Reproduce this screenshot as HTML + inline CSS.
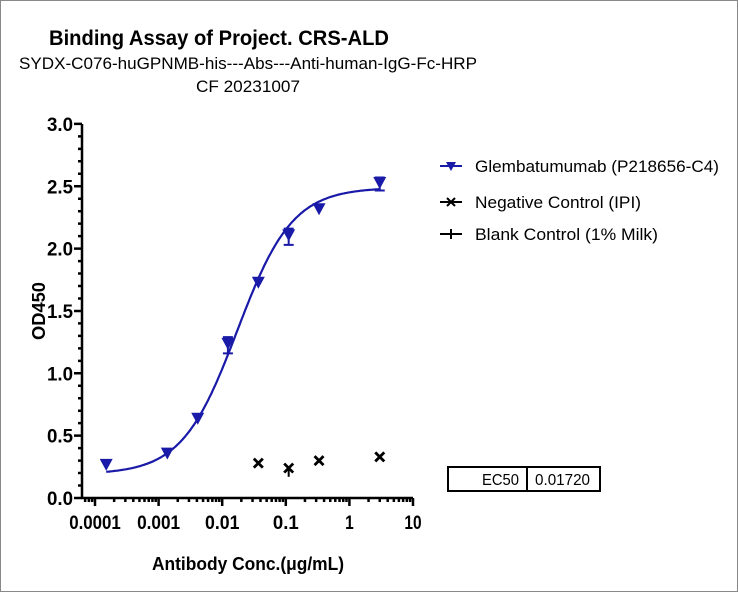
<!DOCTYPE html>
<html><head><meta charset="utf-8"><style>
body{margin:0;background:#fff}
svg{display:block;font-family:"Liberation Sans",Arial,sans-serif}
</style></head><body>
<svg id="s" width="738" height="592" viewBox="0 0 738 592" xmlns="http://www.w3.org/2000/svg">
<rect x="0.5" y="0.5" width="737" height="591" fill="#fff" stroke="#888"/>
<text x="219" y="45" text-anchor="middle" font-size="21" font-weight="bold" textLength="340" lengthAdjust="spacingAndGlyphs">Binding Assay of Project. CRS-ALD</text>
<text x="248" y="69" text-anchor="middle" font-size="17" textLength="458" lengthAdjust="spacingAndGlyphs">SYDX-C076-huGPNMB-his---Abs---Anti-human-IgG-Fc-HRP</text>
<text x="248" y="92" text-anchor="middle" font-size="17" textLength="104" lengthAdjust="spacingAndGlyphs">CF 20231007</text>
<text transform="translate(45,311) rotate(-90)" text-anchor="middle" font-size="18" font-weight="bold" textLength="58" lengthAdjust="spacingAndGlyphs">OD450</text>
<text x="248" y="570" text-anchor="middle" font-size="18" font-weight="bold" textLength="192" lengthAdjust="spacingAndGlyphs">Antibody Conc.(μg/mL)</text>
<g id="ax" stroke="#000" stroke-width="2.5" fill="none"></g>
<g id="lab" font-size="19.5" font-weight="bold" fill="#000"></g>
<path id="curve" fill="none" stroke="#1a1aa8" stroke-width="2.2"/>
<g id="pts"></g>
<g font-size="16.5">
<line x1="440" y1="166" x2="462" y2="166" stroke="#1a1aa8" stroke-width="2"/>
<path d="M446,162 L456,162 L451,171 Z" fill="#1a1aa8"/>
<text x="475" y="172" textLength="244" lengthAdjust="spacingAndGlyphs">Glembatumumab (P218656-C4)</text>
<line x1="440" y1="202" x2="462" y2="202" stroke="#000" stroke-width="2"/>
<path d="M447,198 L455,206 M455,198 L447,206" stroke="#000" stroke-width="2"/>
<text x="475" y="208" textLength="166" lengthAdjust="spacingAndGlyphs">Negative Control (IPI)</text>
<line x1="440" y1="234" x2="462" y2="234" stroke="#000" stroke-width="2"/>
<line x1="451" y1="229" x2="451" y2="239" stroke="#000" stroke-width="2"/>
<text x="475" y="240" textLength="183" lengthAdjust="spacingAndGlyphs">Blank Control (1% Milk)</text>
</g>
<rect x="448" y="467" width="152" height="24" fill="none" stroke="#000" stroke-width="2"/>
<line x1="527" y1="467" x2="527" y2="491" stroke="#000" stroke-width="2"/>
<text x="519" y="485" text-anchor="end" font-size="16" textLength="37" lengthAdjust="spacingAndGlyphs">EC50</text>
<text x="535" y="485" font-size="16" textLength="55" lengthAdjust="spacingAndGlyphs">0.01720</text>
</svg>
<script>
var NS="http://www.w3.org/2000/svg";
function X(v){return 95+63.6*(Math.log10(v)+4);}
function Y(v){return 498-124.7*v;}
var ax=document.getElementById('ax'),lab=document.getElementById('lab');
var d="M82,124 L82,498 L413,498";
for(var i=0;i<=30;i++){var y=Y(i/10);var L=(i%5==0)?8:4;d+=" M82,"+y+" L"+(82-L)+","+y;}
for(var e=-4;e<=1;e++){d+=" M"+X(Math.pow(10,e))+",498 L"+X(Math.pow(10,e))+",506";
 if(e<1)for(var k=2;k<10;k++){var x=X(k*Math.pow(10,e));d+=" M"+x+",498 L"+x+",502";}}
for(var k=2;k<10;k++){var x=X(k*1e-5);if(x>84)d+=" M"+x+",498 L"+x+",502";}
var p=document.createElementNS(NS,'path');p.setAttribute('d',d);ax.appendChild(p);
function t(x,y,s,a,w){var e=document.createElementNS(NS,'text');e.setAttribute('x',x);e.setAttribute('y',y);e.setAttribute('text-anchor',a);e.setAttribute('textLength',w);e.setAttribute('lengthAdjust','spacingAndGlyphs');e.textContent=s;lab.appendChild(e);}
for(var i=0;i<=6;i++)t(73,Y(i/2)+7,(i/2).toFixed(1),'end',26);
var xl=["0.0001","0.001","0.01","0.1","1","10"];
for(var e=0;e<6;e++)t(X(Math.pow(10,e-4)),529,xl[e],'middle',xl[e].length*8.6);
var B=0.19,T=2.49,E=0.0172,h=1.0,c="";
for(var lx=Math.log10(0.00015);lx<=Math.log10(3.0)+1e-9;lx+=0.02){var v=Math.pow(10,lx);var y=B+(T-B)/(1+Math.pow(E/v,h));c+=(c?" L":"M")+X(v).toFixed(1)+","+Y(y).toFixed(1);}
document.getElementById('curve').setAttribute('d',c);
var pts=document.getElementById('pts');
var xs=[0.00015,0.00137,0.00412,0.0123,0.037,0.111,0.333,3.0];
var ys=[0.27,0.36,0.64,1.24,1.73,2.11,2.32,2.53];
var er=[0,0,0,0.05,0,0.05,0,0.04];
var s="";
for(var i=0;i<8;i++){var x=X(xs[i]),y=Y(ys[i]);
 s+='<path d="M'+(x-6.5)+','+(y-5.5)+' L'+(x+6.5)+','+(y-5.5)+' L'+x+','+(y+6.5)+' Z" fill="#1a1aa8"/>';
 if(er[i]){var y1=Y(ys[i]-er[i]*1.6),y2=Y(ys[i]+er[i]);s+='<path d="M'+x+','+y1+' L'+x+','+y2+' M'+(x-5)+','+y1+' L'+(x+5)+','+y1+' M'+(x-5)+','+y2+' L'+(x+5)+','+y2+'" stroke="#1a1aa8" stroke-width="2"/>';}}
var nx=[0.037,0.111,0.333,3.0],ny=[0.28,0.24,0.30,0.33];
for(var i=0;i<4;i++){var x=X(nx[i]),y=Y(ny[i]);
 s+='<path d="M'+(x-4.5)+','+(y-4.5)+' L'+(x+4.5)+','+(y+4.5)+' M'+(x+4.5)+','+(y-4.5)+' L'+(x-4.5)+','+(y+4.5)+'" stroke="#000" stroke-width="2.8"/>';}
var x=X(0.111);s+='<path d="M'+x+','+Y(0.24)+' L'+x+','+Y(0.17)+'" stroke="#000" stroke-width="2"/>';
pts.innerHTML=s;
</script>
</body></html>
